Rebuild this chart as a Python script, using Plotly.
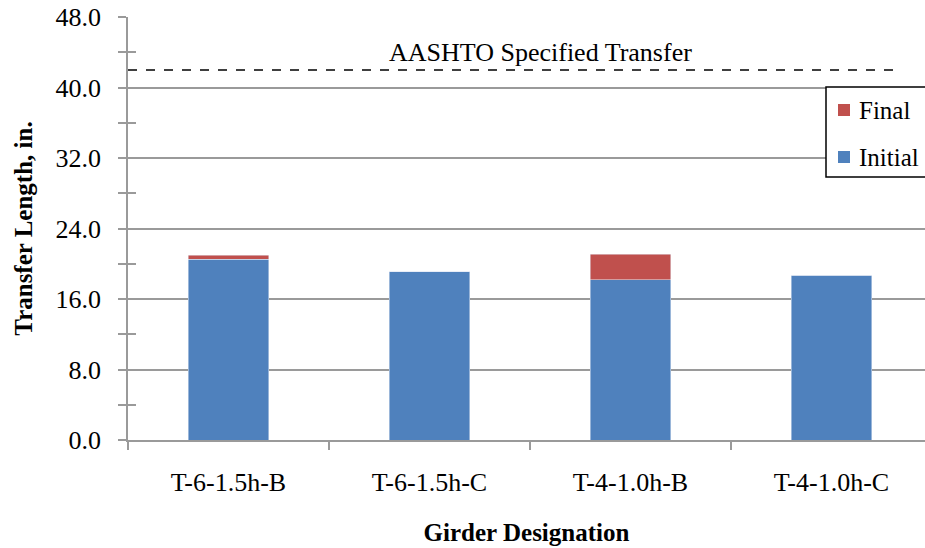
import plotly.graph_objects as go

categories = ["T-6-1.5h-B", "T-6-1.5h-C", "T-4-1.0h-B", "T-4-1.0h-C"]
initial = [20.5, 19.1, 18.2, 18.7]
final_extra = [0.45, 0.0, 2.9, 0.0]
aashto = 42.0
aashto_label = "AASHTO Specified Transfer"
series_names = ["Final", "Initial"]

FONT = "Liberation Serif, Times New Roman, serif"
GRID = "#9a9a9a"
BLUE = "#4F81BD"
RED = "#C0504D"

# body margin is removed below, so figure pixels == page pixels
W, H = 925, 548
ML, MR, MT, MB = 128, 0, 17, 108
PW, PH = W - ML - MR, H - MT - MB


def px(xp):  # page x -> paper
    return (xp - ML) / PW


def py(yp):  # page y -> paper
    return 1 - (yp - MT) / PH


fig = go.Figure()
fig.add_trace(go.Bar(x=categories, y=initial, name="Initial", marker_color=BLUE,
                     width=0.4, showlegend=False))
fig.add_trace(go.Bar(x=categories, y=final_extra, name="Final", marker_color=RED,
                     width=0.4, showlegend=False))

fig.add_shape(type="line", xref="paper", yref="y", x0=0, x1=px(896), y0=aashto, y1=aashto,
              line=dict(color="black", width=1.5, dash="dash"))
fig.add_annotation(xref="paper", yref="y", x=px(540), y=aashto + 2.0, text=aashto_label,
                   showarrow=False, font=dict(family=FONT, size=26, color="black"))

# legend box (drawn manually to match reference placement)
fig.add_shape(type="rect", xref="paper", yref="paper", x0=px(826), x1=px(940),
              y0=py(177), y1=py(87), line=dict(color="black", width=1.5),
              fillcolor="white", layer="above")
for name, color, yc in zip(series_names, [RED, BLUE], [110, 157]):
    fig.add_shape(type="rect", xref="paper", yref="paper", x0=px(838), x1=px(850),
                  y0=py(yc + 6), y1=py(yc - 6), line=dict(width=0), fillcolor=color,
                  layer="above")
    fig.add_annotation(xref="paper", yref="paper", x=px(857), y=py(yc), text=name,
                       xanchor="left", yanchor="middle", showarrow=False,
                       font=dict(family=FONT, size=25, color="black"))

tick_common = dict(range=[0, 48], dtick=8, ticklen=8, tickcolor=GRID, tickwidth=1.5)

fig.update_layout(
    width=W, height=H,
    barmode="stack",
    plot_bgcolor="white", paper_bgcolor="white",
    margin=dict(l=ML, r=MR, t=MT, b=MB, autoexpand=False),
    font=dict(family=FONT, size=26, color="black"),
    showlegend=False,
    xaxis=dict(range=[-0.5, 3.465], showline=True, linecolor=GRID, linewidth=1.5,
               ticks="outside", tickson="boundaries", ticklen=8, tickcolor=GRID, tickwidth=1.5,
               ticklabelstandoff=18,
               showgrid=False, title=dict(text="<b>Girder Designation</b>", standoff=28,
                                          font=dict(family=FONT, size=25))),
    yaxis=dict(**tick_common, tickformat=".1f", showline=True, linecolor=GRID,
               linewidth=1.5, ticks="outside", ticklabeloverflow="allow",
               ticklabelstandoff=12,
               showgrid=True, gridcolor=GRID, gridwidth=1.5, zeroline=False,
               minor=dict(dtick=4, ticks="outside", ticklen=8, tickcolor=GRID, tickwidth=1.5,
                          showgrid=False),
               title=dict(text="<b>Transfer Length, in.</b>", standoff=16,
                          font=dict(family=FONT, size=25))),
    yaxis2=dict(**tick_common, overlaying="y", side="left", ticks="inside",
                showticklabels=False, showgrid=False, zeroline=False, showline=False,
                minor=dict(dtick=4, ticks="inside", ticklen=8, tickcolor=GRID, tickwidth=1.5)),
)
# invisible helper trace so the inner tick axis is rendered
fig.add_trace(go.Scatter(x=[categories[0]], y=[0], yaxis="y2", mode="markers",
                         marker=dict(opacity=0), showlegend=False, hoverinfo="skip"))

fig.write_html("out.html", config={"displayModeBar": False},
               post_script="document.body.style.margin='0';document.body.style.overflow='hidden';")
